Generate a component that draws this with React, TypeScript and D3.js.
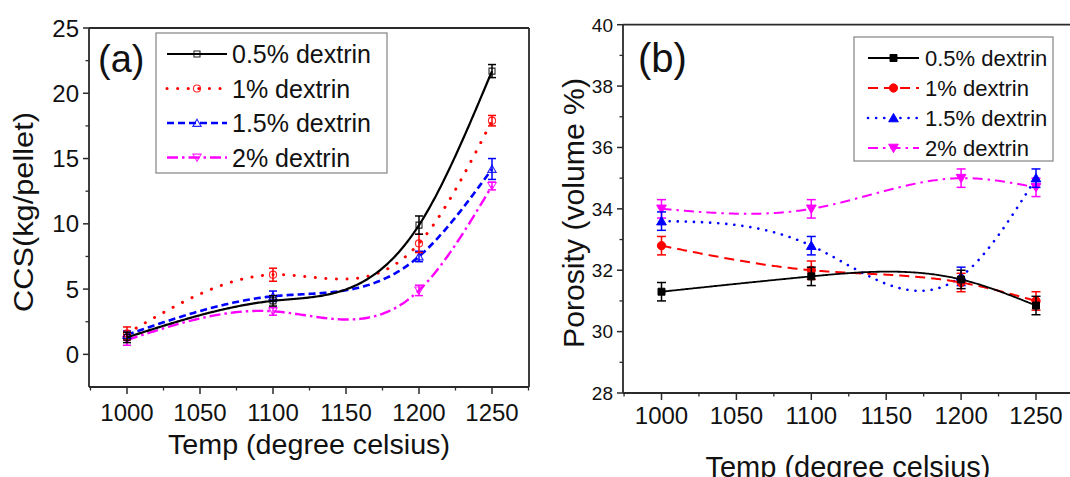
import React from "react";
import * as d3 from "d3";

// ---------- data ----------
const temps = [1000, 1100, 1200, 1250];
const seriesNames = ["0.5% dextrin", "1% dextrin", "1.5% dextrin", "2% dextrin"];
const seriesColors = ["#000000", "#ff0000", "#0000ff", "#ff00ff"];

// (a) cold crushing strength, kg/pellet
const ccs05 = [1.3, 4.1, 9.9, 21.7];
const ccs1 = [1.6, 6.1, 8.5, 17.9];
const ccs15 = [1.5, 4.45, 7.5, 14.2];
const ccs2 = [1.1, 3.3, 4.9, 12.9];
const ccsErr05 = [0.4, 0.4, 0.7, 0.5];
const ccsErr1 = [0.5, 0.5, 0.7, 0.4];
const ccsErr15 = [0.3, 0.4, 0.4, 0.8];
const ccsErr2 = [0.4, 0.3, 0.4, 0.3];

// (b) porosity, volume %
const por05 = [31.3, 31.8, 31.7, 30.85];
const por1 = [32.8, 32.0, 31.6, 31.0];
const por15 = [33.6, 32.8, 31.8, 35.0];
const por2 = [34.0, 34.0, 35.0, 34.7];
const porErr05 = [0.3, 0.3, 0.3, 0.3];
const porErr1 = [0.3, 0.3, 0.3, 0.3];
const porErr15 = [0.3, 0.3, 0.3, 0.3];
const porErr2 = [0.3, 0.3, 0.3, 0.3];

const tempTicks = [1000, 1050, 1100, 1150, 1200, 1250];
const tempMinorTicks = [975, 1025, 1075, 1125, 1175, 1225, 1275];
const ccsTicks = [0, 5, 10, 15, 20, 25];
const ccsMinorTicks = [2.5, 7.5, 12.5, 17.5, 22.5];
const porTicks = [28, 30, 32, 34, 36, 38, 40];
const porMinorTicks = [29, 31, 33, 35, 37, 39];

const FONT = "'Liberation Sans', Arial, sans-serif";

// natural cubic spline y(x) through the points (rendering helper)
function naturalSpline(xs: number[], ys: number[]) {
  const n = xs.length;
  const h = d3.range(n - 1).map((i) => xs[i + 1] - xs[i]);
  const M = new Array(n).fill(0);
  const m = n - 2;
  if (m > 0) {
    const a: number[] = [], b: number[] = [], c: number[] = [], r: number[] = [];
    for (let i = 1; i <= m; i++) {
      a.push(h[i - 1]);
      b.push(2 * (h[i - 1] + h[i]));
      c.push(h[i]);
      r.push(6 * ((ys[i + 1] - ys[i]) / h[i] - (ys[i] - ys[i - 1]) / h[i - 1]));
    }
    for (let i = 1; i < m; i++) {
      const w = a[i] / b[i - 1];
      b[i] -= w * c[i - 1];
      r[i] -= w * r[i - 1];
    }
    const sol = new Array(m).fill(0);
    sol[m - 1] = r[m - 1] / b[m - 1];
    for (let i = m - 2; i >= 0; i--) sol[i] = (r[i] - c[i] * sol[i + 1]) / b[i];
    for (let i = 0; i < m; i++) M[i + 1] = sol[i];
  }
  return (x: number) => {
    let i = 0;
    while (i < n - 2 && x > xs[i + 1]) i++;
    const hi = h[i];
    const A = xs[i + 1] - x;
    const B = x - xs[i];
    return (
      (M[i] * A * A * A) / (6 * hi) +
      (M[i + 1] * B * B * B) / (6 * hi) +
      (ys[i] / hi - (M[i] * hi) / 6) * A +
      (ys[i + 1] / hi - (M[i + 1] * hi) / 6) * B
    );
  };
}

type SeriesStyle = {
  dash: string;
  width: number;
  cap: "round" | "butt";
};

type PanelProps = {
  xDomain: [number, number];
  xRange: [number, number];
  axisLeft: number;
  axisRight: number;
  yDomain: [number, number];
  yRange: [number, number];
  yTicks: number[];
  yMinor: number[];
  yTickFont: number;
  yTickX: number;
  xTickFont: number;
  xTickBaseline: number;
  xTitle: { x: number; y: number; size: number; len: number };
  yTitle: { text: string; x: number; y: number; size: number; len: number };
  label: { text: string; x: number; y: number; size: number };
  values: number[][];
  errors: number[][];
  styles: SeriesStyle[];
  filled: boolean;
  markerScale: number;
  capW: number;
  legend: { x: number; y: number; w: number; h: number; y0: number; dy: number; lx0: number; lx1: number; tx: number; font: number };
  drawRight: boolean;
};

function markerPath(i: number, size: number) {
  const types = [d3.symbolSquare, d3.symbolCircle, d3.symbolTriangle, d3.symbolTriangle];
  return d3.symbol().type(types[i]).size(size)() as string;
}

function Marker({ i, x, y, filled, scale }: { i: number; x: number; y: number; filled: boolean; scale: number }) {
  const sizes = [36, 40, 30, 30].map((s) => s * scale);
  const rot = i === 3 ? 180 : 0;
  const dyOff = i === 2 ? 1 : i === 3 ? -1 : 0;
  return (
    <path
      d={markerPath(i, sizes[i])}
      transform={`translate(${x},${y + dyOff}) rotate(${rot})`}
      fill={filled ? seriesColors[i] : "none"}
      stroke={seriesColors[i]}
      strokeWidth={filled ? 1 : 1.1}
      opacity={filled ? 1 : 0.85}
    />
  );
}

function Panel(p: PanelProps) {
  const x = d3.scaleLinear().domain(p.xDomain).range(p.xRange);
  const y = d3.scaleLinear().domain(p.yDomain).range(p.yRange);
  const yTop = p.yRange[1];
  const yBot = p.yRange[0];
  const axisColor = "#2a2a2a";
  const line = d3
    .line<[number, number]>()
    .x((d) => x(d[0]))
    .y((d) => y(d[1]));
  const order = [3, 2, 1, 0];
  return (
    <g>
      {/* axes frame */}
      <line x1={p.axisLeft} x2={p.axisLeft} y1={yTop} y2={yBot} stroke={axisColor} strokeWidth={1.8} />
      <line x1={p.axisLeft} x2={p.axisRight} y1={yBot} y2={yBot} stroke={axisColor} strokeWidth={1.8} />
      <line x1={p.axisLeft} x2={p.axisRight} y1={yTop} y2={yTop} stroke={axisColor} strokeWidth={1.8} />
      {p.drawRight && (
        <line x1={p.axisRight} x2={p.axisRight} y1={yTop} y2={yBot} stroke={axisColor} strokeWidth={1.8} />
      )}
      {/* y ticks */}
      {p.yTicks.map((t) => (
        <g key={"yt" + t}>
          <line x1={p.axisLeft - 6} x2={p.axisLeft} y1={y(t)} y2={y(t)} stroke={axisColor} strokeWidth={1.5} />
          <text
            x={p.yTickX}
            y={y(t)}
            dy="0.36em"
            textAnchor="end"
            fontSize={p.yTickFont}
            fontFamily={FONT}
            fill="#111"
          >
            {t}
          </text>
        </g>
      ))}
      {p.yMinor.map((t) => (
        <line key={"ym" + t} x1={p.axisLeft - 3.5} x2={p.axisLeft} y1={y(t)} y2={y(t)} stroke={axisColor} strokeWidth={1.3} />
      ))}
      {/* x ticks */}
      {tempTicks.map((t) => (
        <g key={"xt" + t}>
          <line x1={x(t)} x2={x(t)} y1={yBot} y2={yBot + 7} stroke={axisColor} strokeWidth={1.5} />
          <text x={x(t)} y={p.xTickBaseline} textAnchor="middle" fontSize={p.xTickFont} fontFamily={FONT} fill="#111">
            {t}
          </text>
        </g>
      ))}
      {tempMinorTicks.map((t) => (
        <line key={"xm" + t} x1={x(t)} x2={x(t)} y1={yBot} y2={yBot + 3.5} stroke={axisColor} strokeWidth={1.3} />
      ))}
      {/* titles */}
      <text
        x={p.xTitle.x}
        y={p.xTitle.y}
        textAnchor="middle"
        fontSize={p.xTitle.size}
        fontFamily={FONT}
        fill="#111"
        textLength={p.xTitle.len}
        lengthAdjust="spacingAndGlyphs"
      >
        Temp (degree celsius)
      </text>
      <text
        transform={`translate(${p.yTitle.x},${p.yTitle.y}) rotate(-90)`}
        textAnchor="middle"
        fontSize={p.yTitle.size}
        fontFamily={FONT}
        fill="#111"
        textLength={p.yTitle.len}
        lengthAdjust="spacingAndGlyphs"
      >
        {p.yTitle.text}
      </text>
      <text x={p.label.x} y={p.label.y} fontSize={p.label.size} fontFamily={FONT} fill="#111">
        {p.label.text}
      </text>
      {/* series */}
      {order.map((i) => {
        const f = naturalSpline(temps, p.values[i]);
        const pts: [number, number][] = d3
          .range(temps[0], temps[temps.length - 1] + 0.001, 1)
          .map((t) => [t, f(t)]);
        const st = p.styles[i];
        return (
          <g key={"s" + i}>
            <path
              d={line(pts) as string}
              fill="none"
              stroke={seriesColors[i]}
              strokeWidth={st.width}
              strokeDasharray={st.dash}
              strokeLinecap={st.cap}
            />
            {temps.map((t, j) => {
              const v = p.values[i][j];
              const e = p.errors[i][j];
              return (
                <g key={"e" + j}>
                  <line x1={x(t)} x2={x(t)} y1={y(v - e)} y2={y(v + e)} stroke={seriesColors[i]} strokeWidth={1.5} />
                  <line x1={x(t) - p.capW / 2} x2={x(t) + p.capW / 2} y1={y(v - e)} y2={y(v - e)} stroke={seriesColors[i]} strokeWidth={1.5} />
                  <line x1={x(t) - p.capW / 2} x2={x(t) + p.capW / 2} y1={y(v + e)} y2={y(v + e)} stroke={seriesColors[i]} strokeWidth={1.5} />
                  <Marker i={i} x={x(t)} y={y(v)} filled={p.filled} scale={p.markerScale} />
                </g>
              );
            })}
          </g>
        );
      })}
      {/* legend */}
      <rect
        x={p.legend.x}
        y={p.legend.y}
        width={p.legend.w}
        height={p.legend.h}
        fill="#fff"
        stroke="#8c8c8c"
        strokeWidth={1.3}
      />
      {seriesNames.map((name, i) => {
        const ly = p.legend.y0 + i * p.legend.dy;
        const st = p.styles[i];
        return (
          <g key={"l" + i}>
            <line
              x1={p.legend.lx0}
              x2={p.legend.lx1}
              y1={ly}
              y2={ly}
              stroke={seriesColors[i]}
              strokeWidth={st.width}
              strokeDasharray={st.dash}
              strokeLinecap={st.cap}
            />
            <Marker i={i} x={(p.legend.lx0 + p.legend.lx1) / 2} y={ly} filled={p.filled} scale={p.markerScale} />
            <text x={p.legend.tx} y={ly} dy="0.36em" fontSize={p.legend.font} fontFamily={FONT} fill="#111">
              {name}
            </text>
          </g>
        );
      })}
    </g>
  );
}

export default function App() {
  const stylesA: SeriesStyle[] = [
    { dash: "none", width: 2.2, cap: "butt" },
    { dash: "0.1 10.5", width: 3, cap: "round" },
    { dash: "7 4", width: 2.6, cap: "butt" },
    { dash: "11 4 2.5 4", width: 2.4, cap: "butt" },
  ];
  const stylesB: SeriesStyle[] = [
    { dash: "none", width: 1.8, cap: "butt" },
    { dash: "10 6", width: 2, cap: "butt" },
    { dash: "0.1 8", width: 2.6, cap: "round" },
    { dash: "10 5 2.5 5", width: 2, cap: "butt" },
  ];
  return (
    <svg
      width={1070}
      height={477}
      viewBox="0 0 1070 477"
      style={{ position: "absolute", left: 0, top: 0, background: "#fff", display: "block" }}
    >
      <rect x={0} y={0} width={1070} height={477} fill="#fff" />
      <Panel
        xDomain={[1000, 1250]}
        xRange={[127, 492]}
        axisLeft={89}
        axisRight={529}
        yDomain={[-2.5, 25]}
        yRange={[387, 28]}
        yTicks={ccsTicks}
        yMinor={ccsMinorTicks}
        yTickFont={24}
        yTickX={79}
        xTickFont={24}
        xTickBaseline={421}
        xTitle={{ x: 309, y: 454, size: 27, len: 282 }}
        yTitle={{ text: "CCS(kg/pellet)", x: 33, y: 212, size: 27, len: 200 }}
        label={{ text: "(a)", x: 98, y: 72, size: 38 }}
        values={[ccs05, ccs1, ccs15, ccs2]}
        errors={[ccsErr05, ccsErr1, ccsErr15, ccsErr2]}
        styles={stylesA}
        filled={false}
        markerScale={1}
        capW={8}
        legend={{ x: 156, y: 33, w: 231, h: 140, y0: 54, dy: 34.5, lx0: 167, lx1: 227, tx: 232, font: 25 }}
        drawRight={true}
      />
      <Panel
        xDomain={[1000, 1250]}
        xRange={[661.5, 1036]}
        axisLeft={623}
        axisRight={1074}
        yDomain={[28, 40]}
        yRange={[393, 24.7]}
        yTicks={porTicks}
        yMinor={porMinorTicks}
        yTickFont={19}
        yTickX={613}
        xTickFont={24}
        xTickBaseline={424}
        xTitle={{ x: 848, y: 477, size: 30, len: 285 }}
        yTitle={{ text: "Porosity (volume %)", x: 584, y: 213, size: 30, len: 270 }}
        label={{ text: "(b)", x: 638, y: 72, size: 40 }}
        values={[por05, por1, por15, por2]}
        errors={[porErr05, porErr1, porErr15, porErr2]}
        styles={stylesB}
        filled={true}
        markerScale={1.35}
        capW={9}
        legend={{ x: 854, y: 37, w: 199, h: 124, y0: 58, dy: 30, lx0: 868, lx1: 919, tx: 925, font: 22 }}
        drawRight={false}
      />
    </svg>
  );
}
